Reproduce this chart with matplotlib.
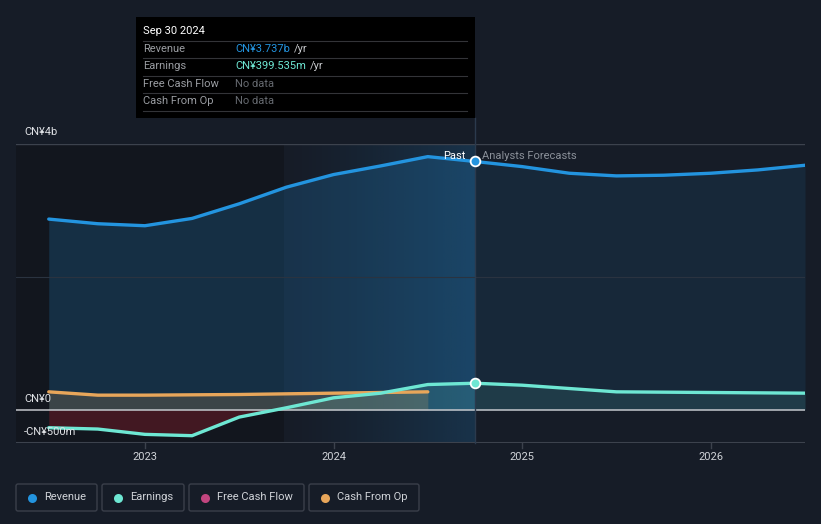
import numpy as np
import matplotlib
matplotlib.use("Agg")
import matplotlib.pyplot as plt
from matplotlib.colors import to_rgb
from matplotlib.patches import Rectangle, FancyBboxPatch

plt.rcParams['font.family'] = ['Roboto', 'DejaVu Sans']

# --- data (CN¥ billions, decimal years) ---
rev_dates = [2022.49, 2022.75, 2023.0, 2023.25, 2023.5, 2023.75, 2024.0, 2024.25, 2024.5, 2024.75]
rev_vals = [2.87, 2.80, 2.77, 2.88, 3.10, 3.35, 3.54, 3.67, 3.81, 3.737]
rev_fc_dates = [2024.75, 2025.0, 2025.25, 2025.5, 2025.75, 2026.0, 2026.25, 2026.5]
rev_fc_vals = [3.737, 3.66, 3.56, 3.52, 3.53, 3.56, 3.61, 3.68]

earn_dates = [2022.49, 2022.75, 2023.0, 2023.25, 2023.5, 2023.75, 2024.0, 2024.25, 2024.5, 2024.75]
earn_vals = [-0.27, -0.29, -0.37, -0.39, -0.11, 0.03, 0.18, 0.25, 0.38, 0.3995]
earn_fc_dates = [2024.75, 2025.0, 2025.5, 2026.0, 2026.5]
earn_fc_vals = [0.3995, 0.37, 0.27, 0.26, 0.25]

cfo_dates = [2022.49, 2022.75, 2023.0, 2023.25, 2023.5, 2023.75, 2024.0, 2024.25, 2024.5]
cfo_vals = [0.27, 0.22, 0.22, 0.225, 0.23, 0.24, 0.25, 0.26, 0.27]

today = 2024.75
highlight_start = 2023.74
year_ticks = [2023, 2024, 2025, 2026]

BG = '#161c27'
REV = '#2394df'
EARN = '#6ee7d3'
FCF = '#c2457f'
CFO = '#e8a65a'

W, H = 821, 524
fig = plt.figure(figsize=(W / 100, H / 100), dpi=100, facecolor=BG)

# main axes in pixel layout: x 16..805, y 144 (4b) .. 443 (-0.5b)
ax = fig.add_axes([16 / W, (H - 443) / H, 789 / W, 299 / H])
ax.set_facecolor(BG)
x0 = 2023 - 129 / 188.7
ax.set_xlim(x0, 2026.5)
ax.set_ylim(-0.5, 4.0)
for s in ax.spines.values():
    s.set_visible(False)
ax.set_xticks([])
ax.set_yticks([])

# past regions
ax.axvspan(x0, highlight_start, color='#12161e', zorder=0, lw=0)
grad = np.zeros((2, 256, 4))
grad[..., :3] = to_rgb('#1f6fa8')
grad[..., 3] = np.linspace(0.0, 0.34, 256) ** 1.2
ax.imshow(grad, extent=(highlight_start, today, -0.5, 4.0), aspect='auto',
          origin='lower', zorder=1, interpolation='bilinear')

# fills
ax.fill_between(rev_dates, 0, rev_vals, color=REV, alpha=0.2, lw=0, zorder=2)
ax.fill_between(rev_fc_dates, 0, rev_fc_vals, color=REV, alpha=0.1, lw=0, zorder=2)
ed = np.array(earn_dates)
ev = np.array(earn_vals)
ax.fill_between(ed, 0, ev, where=ev <= 0.05, interpolate=True, color='#8b1c2a', alpha=0.4, lw=0, zorder=2)
ax.fill_between(ed, 0, ev, where=ev >= 0, interpolate=True, color=EARN, alpha=0.15, lw=0, zorder=2)
ax.fill_between(earn_fc_dates, 0, earn_fc_vals, color=EARN, alpha=0.1, lw=0, zorder=2)
ax.fill_between(cfo_dates, 0, cfo_vals, color=CFO, alpha=0.18, lw=0, zorder=2)

# grid
ax.axhline(4.0, color='#3c424d', lw=1, zorder=3)
ax.axhline(2.0, color='#2a3340', lw=0.8, zorder=3)
ax.axhline(0.0, color='#c4c7cc', lw=1.1, zorder=3)
ax.axhline(-0.5, color='#3c424d', lw=1.5, zorder=3)

# today divider, reaching up to the tooltip
ax.plot([today, today], [-0.5, 4.0 + 26 / 66.5], color='#2b3a4d', lw=1, zorder=4, clip_on=False)

# lines
kw = dict(lw=2.4, solid_capstyle='round', solid_joinstyle='round', zorder=5)
ax.plot(cfo_dates, cfo_vals, color=CFO, **kw)
ax.plot(earn_dates, earn_vals, color=EARN, **kw)
ax.plot(earn_fc_dates, earn_fc_vals, color=EARN, **kw)
ax.plot(rev_dates, rev_vals, color=REV, **kw)
ax.plot(rev_fc_dates, rev_fc_vals, color=REV, **kw)
ax.plot([today], [rev_vals[-1]], 'o', ms=7, mfc=REV, mec='white', mew=1.3, zorder=6)
ax.plot([today], [earn_vals[-1]], 'o', ms=7, mfc=EARN, mec='white', mew=1.3, zorder=6)

# overlay in pixel coords
ov = fig.add_axes([0, 0, 1, 1], facecolor='none')
ov.set_xlim(0, W)
ov.set_ylim(H, 0)
ov.axis('off')

def px(year):
    return 16 + (year - x0) / (2026.5 - x0) * 789

tx = px(today)
for yr in year_ticks:
    ov.plot([px(yr), px(yr)], [443, 448], color='#3c424d', lw=1)
    ov.text(px(yr), 457, str(yr), color='#d0d3d8', fontsize=8, ha='center', va='center')

ov.text(24, 132, 'CN¥4b', color='#e0e2e6', fontsize=8, va='center')
ov.text(24, 399, 'CN¥0', color='#e0e2e6', fontsize=8, va='center')
ov.text(24, 432, '-CN¥500m', color='#e0e2e6', fontsize=8, va='center')
ov.text(tx - 9, 156, 'Past', color='white', fontsize=8, ha='right', va='center')
ov.text(tx + 7, 156, 'Analysts Forecasts', color='#8a9099', fontsize=8, ha='left', va='center')

# tooltip
ov.add_patch(Rectangle((136, 17), 339, 101, facecolor='black', edgecolor='none', zorder=10))
ov.text(143, 31, 'Sep 30 2024', color='white', fontsize=8, va='center', zorder=11)
rows = [('Revenue', 'CN¥3.737b', REV), ('Earnings', 'CN¥399.535m', EARN),
        ('Free Cash Flow', 'No data', '#666a70'), ('Cash From Op', 'No data', '#666a70')]
row_y = [49, 66, 84, 101]
for yy in [41, 58, 76, 93, 111]:
    ov.plot([143, 467], [yy, yy], color='#333438', lw=0.8, zorder=11)
for (lab, val, col), yy in zip(rows, row_y):
    ov.text(143, yy, lab, color='#9a9da2', fontsize=8, va='center', zorder=11)
    t = ov.text(235, yy, val, color=col, fontsize=8, va='center', zorder=11)
    if val != 'No data':
        fig.canvas.draw()
        bb = t.get_window_extent()
        ov.text(bb.x1 + 4, yy, '/yr', color='#c8cacd', fontsize=8, va='center', zorder=11)

# legend
legend = [('Revenue', REV, 16, 81), ('Earnings', EARN, 102, 82),
          ('Free Cash Flow', FCF, 189, 115), ('Cash From Op', CFO, 309, 110)]
for lab, col, lx, lw_ in legend:
    ov.add_patch(FancyBboxPatch((lx, 484), lw_, 27, boxstyle='round,pad=0,rounding_size=2',
                                facecolor='none', edgecolor='#3a3f4a', lw=1))
    ov.plot([lx + 16], [497.5], 'o', ms=6.5, color=col, mec='none')
    ov.text(lx + 28, 497.5, lab, color='#d0d3d8', fontsize=8, va='center')

fig.savefig('out.png', dpi=100, facecolor=BG)
